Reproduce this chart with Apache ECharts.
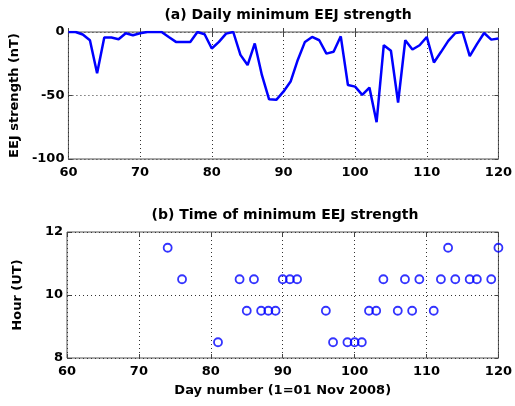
<!DOCTYPE html>
<html>
<head>
<meta charset="utf-8">
<script src="https://cdn.jsdelivr.net/npm/echarts@6/dist/echarts.min.js"></script>
<style>
    html, body { margin: 0; padding: 0; background: #fff; }
    #chart { width: 515px; height: 406px; }
</style>
</head>
<body>
<div id="chart"></div>
<script>
// 日最小 EEJ 强度 (nT)
var eejDays = [60, 61, 62, 63, 64, 65, 66, 67, 68, 69, 70, 71, 72, 73, 74, 75, 76, 77, 78, 79,
    80, 81, 82, 83, 84, 85, 86, 87, 88, 89, 90, 91, 92, 93, 94, 95, 96, 97, 98, 99,
    100, 101, 102, 103, 104, 105, 106, 107, 108, 109, 110, 111, 112, 113, 114, 115, 116, 117, 118, 119, 120];
var eejMin = [0, 0, -2, -6.5, -32.5, -4.4, -4.4, -5.7, -1, -2.6, -1, 0, 0, 0, -4, -7.8, -7.8, -7.8, 0, -1.8,
    -13, -7.8, -1.3, 0, -18, -26, -9, -34, -53, -53.4, -47, -39, -22, -7.8, -3.9, -6.5, -17, -15.6, -3.4, -41.7,
    -43, -49.5, -43.8, -71, -10.4, -14.8, -55.5, -6.5, -13.8, -10.4, -3.9, -24, -15.6, -7, -0.8, 0, -19, -9.6, -0.8, -6, -5.2];

// 最小值出现时间 (UT)
var hourDays = [74, 76, 81, 84, 85, 86, 87, 88, 89, 90, 91, 92, 96, 97, 99, 100, 101, 102, 103, 104,
    106, 107, 108, 109, 111, 112, 113, 114, 116, 117, 119, 120];
var hourUT = [11.5, 10.5, 8.5, 10.5, 9.5, 10.5, 9.5, 9.5, 9.5, 10.5, 10.5, 10.5, 9.5, 8.5, 8.5, 8.5, 8.5, 9.5, 9.5, 10.5,
    9.5, 10.5, 9.5, 10.5, 9.5, 10.5, 11.5, 10.5, 10.5, 10.5, 10.5, 11.5];

var titleA = '(a) Daily minimum EEJ strength';
var titleB = '(b) Time of minimum EEJ strength';

var FONT = 'DejaVu Sans';
var myChart = echarts.init(document.getElementById('chart'));

function pairs(xs, ys) {
    var out = [];
    for (var i = 0; i < xs.length; i++) out.push([xs[i], ys[i]]);
    return out;
}

var txt = { fontFamily: FONT, fontWeight: 'bold', fontSize: 13, color: '#000' };
var titleTxt = { fontFamily: FONT, fontWeight: 'bold', fontSize: 14, color: '#000' };

// 主轴: 刻度朝内, 点线网格
function mainX(grid, name) {
    return {
        gridIndex: grid, type: 'value', min: 60, max: 120, interval: 10,
        name: name, nameLocation: 'middle', nameGap: 26,
        nameTextStyle: txt,
        axisLine: { show: false },
        axisTick: { inside: true, length: 4, lineStyle: { color: '#444' } },
        axisLabel: { fontFamily: FONT, fontWeight: 'bold', fontSize: 13, color: '#000', margin: 7 },
        splitLine: { show: true, lineStyle: { color: '#333', type: [1, 3] } }
    };
}
function mainY(grid, min, max, interval, name) {
    return {
        gridIndex: grid, type: 'value', min: min, max: max, interval: interval,
        name: name, nameLocation: 'middle', nameGap: 43,
        nameTextStyle: txt,
        axisLine: { show: false },
        axisTick: { inside: true, length: 4, lineStyle: { color: '#444' } },
        axisLabel: { fontFamily: FONT, fontWeight: 'bold', fontSize: 13, color: '#000', margin: 4 },
        splitLine: { show: true, lineStyle: { color: '#333', type: [1, 3] } }
    };
}
// 对侧只画刻度
function sideX(grid) {
    return {
        gridIndex: grid, type: 'value', position: 'top', min: 60, max: 120, interval: 10,
        axisLine: { show: false }, axisLabel: { show: false }, splitLine: { show: false },
        axisTick: { inside: true, length: 4, lineStyle: { color: '#444' } }
    };
}
function sideY(grid, min, max, interval) {
    return {
        gridIndex: grid, type: 'value', position: 'right', min: min, max: max, interval: interval,
        axisLine: { show: false }, axisLabel: { show: false }, splitLine: { show: false },
        axisTick: { inside: true, length: 4, lineStyle: { color: '#444' } }
    };
}

var option = {
    backgroundColor: '#fff',
    animation: false,
    title: [
        { text: titleA, left: 283, top: 3, textAlign: 'center', textStyle: titleTxt },
        { text: titleB, left: 280, top: 203, textAlign: 'center', textStyle: titleTxt }
    ],
    grid: [
        { left: 67, top: 32, width: 435, height: 127, show: true, borderColor: '#555', borderWidth: 1, backgroundColor: 'transparent' },
        { left: 67, top: 232, width: 435, height: 126, show: true, borderColor: '#555', borderWidth: 1, backgroundColor: 'transparent' }
    ],
    xAxis: [
        mainX(0, ''),
        mainX(1, 'Day number (1=01 Nov 2008)'),
        sideX(0),
        sideX(1)
    ],
    yAxis: [
        mainY(0, -100, 0, 50, 'EEJ strength (nT)'),
        mainY(1, 8, 12, 2, 'Hour (UT)'),
        sideY(0, -100, 0, 50),
        sideY(1, 8, 12, 2)
    ],
    series: [
        {
            type: 'line', xAxisIndex: 0, yAxisIndex: 0,
            data: pairs(eejDays, eejMin),
            showSymbol: false, symbol: 'none',
            lineStyle: { color: '#0000ff', width: 2.5 }
        },
        {
            type: 'scatter', xAxisIndex: 1, yAxisIndex: 1,
            data: pairs(hourDays, hourUT),
            symbol: 'circle', symbolSize: 8,
            itemStyle: { color: 'rgba(0,0,0,0)', borderColor: '#0000ff', borderWidth: 1.8 }
        }
    ]
};
myChart.setOption(option);
</script>
</body>
</html>
